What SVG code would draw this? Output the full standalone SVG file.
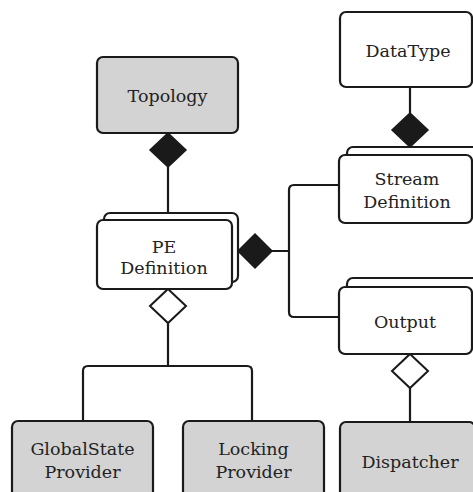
<svg xmlns="http://www.w3.org/2000/svg" width="473" height="492" viewBox="0 0 473 492">
<style>
.box{fill:#ffffff;stroke:#1a1a1a;stroke-width:2.2}
.gray{fill:#d3d3d3;stroke:#1a1a1a;stroke-width:2.2}
.lbl{font-family:"DejaVu Serif",serif;font-size:17.5px;fill:#222;text-anchor:middle}
.ln{fill:none;stroke:#1a1a1a;stroke-width:2.2}
.dfill{fill:#1a1a1a;stroke:#1a1a1a;stroke-width:1.5}
.dhollow{fill:#ffffff;stroke:#1a1a1a;stroke-width:2}
</style>
<rect width="473" height="492" fill="#ffffff"/>
<g id="connectors">
  <path class="ln" d="M168,167 V213"/>
  <path class="ln" d="M168,323 V366 M83,421 V371 Q83,366 88,366 H247 Q252,366 252,371 V421"/>
  <path class="ln" d="M272,251 H289 M340,185 H294 Q289,185 289,190 V312 Q289,317 294,317 H340"/>
  <path class="ln" d="M410,87 V113"/>
  <path class="ln" d="M410,388 V422"/>
  <polygon class="dfill" points="168,133 186,150 168,167 150,150"/>
  <polygon class="dhollow" points="168,289 186,306 168,323 150,306"/>
  <polygon class="dfill" points="238,251 255,234 272,251 255,268"/>
  <polygon class="dfill" points="410,113 428,130 410,147 392,130"/>
  <polygon class="dhollow" points="410,354 428,371 410,388 392,371"/>
</g>
<g id="topology">
  <rect class="gray" x="97" y="57" width="141" height="76" rx="6"/>
  <text class="lbl" x="167.5" y="102">Topology</text>
</g>
<g id="pe-definition">
  <rect class="box" x="104" y="213" width="134" height="69" rx="6"/>
  <rect class="box" x="97" y="220" width="135" height="69" rx="6"/>
  <text class="lbl" x="164" y="253">PE</text>
  <text class="lbl" x="164" y="274">Definition</text>
</g>
<g id="datatype">
  <rect class="box" x="340" y="12" width="132" height="75" rx="6"/>
  <text class="lbl" x="408" y="57">DataType</text>
</g>
<g id="stream-definition">
  <rect class="box" x="347" y="147" width="134" height="68" rx="6"/>
  <rect class="box" x="339" y="155" width="133" height="68" rx="6"/>
  <text class="lbl" x="407" y="185">Stream</text>
  <text class="lbl" x="407" y="208">Definition</text>
</g>
<g id="output">
  <rect class="box" x="347" y="278" width="134" height="67" rx="6"/>
  <rect class="box" x="339" y="287" width="133" height="67" rx="6"/>
  <text class="lbl" x="405" y="328">Output</text>
</g>
<g id="globalstate-provider">
  <rect class="gray" x="12" y="421" width="141" height="85" rx="6"/>
  <text class="lbl" x="82.5" y="455">GlobalState</text>
  <text class="lbl" x="82.5" y="478">Provider</text>
</g>
<g id="locking-provider">
  <rect class="gray" x="183" y="421" width="141" height="85" rx="6"/>
  <text class="lbl" x="253.5" y="455">Locking</text>
  <text class="lbl" x="253.5" y="478">Provider</text>
</g>
<g id="dispatcher">
  <rect class="gray" x="340" y="422" width="135" height="85" rx="6"/>
  <text class="lbl" x="410" y="468">Dispatcher</text>
</g>
</svg>
